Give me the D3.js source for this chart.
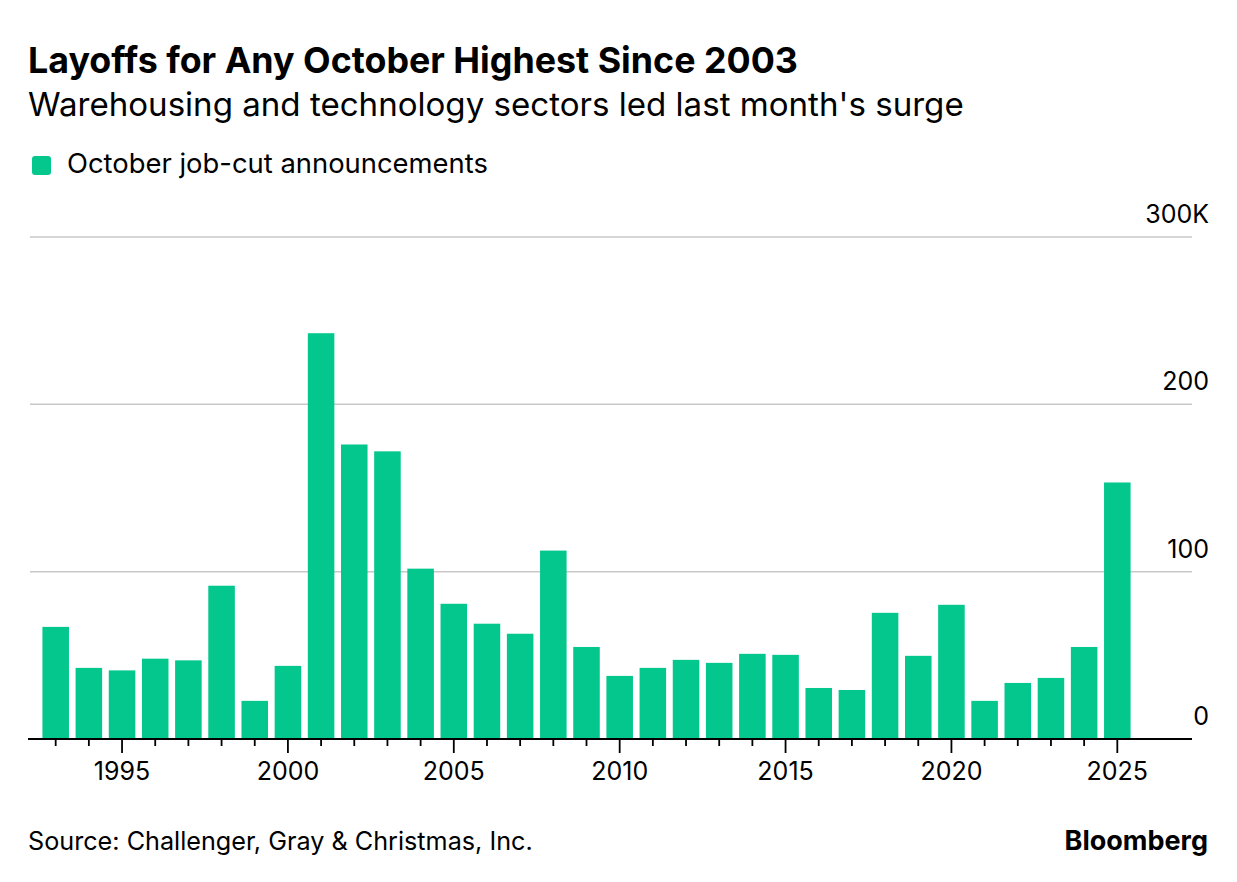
<!DOCTYPE html>
<html>
<head>
<meta charset="utf-8">
<script src="https://cdn.jsdelivr.net/npm/d3@7"></script>
<style>
  html, body { margin: 0; padding: 0; background: #fff; }
  svg { display: block; font-family: Inter, "Liberation Sans", Arial, sans-serif; }
</style>
</head>
<body>
<svg id="chart" width="1237" height="882"></svg>
<script>
const years = d3.range(1993, 2026);
const jobCuts = [67, 42.5, 41, 48, 47, 91.6, 22.8, 43.7, 242.5, 176, 171.9, 101.8, 80.8, 68.9, 62.9, 112.6,
                 55, 37.7, 42.5, 47.3, 45.5, 50.9, 50.3, 30.5, 29.3, 75.4, 49.7, 80.2, 22.8, 33.5, 36.5, 55, 153.3];
const yTicks = [0, 100, 200, 300];
const yTickLabels = ["0", "100", "200", "300K"];
const seriesName = "October job-cut announcements";
const title = "Layoffs for Any October Highest Since 2003";
const subtitle = "Warehousing and technology sectors led last month's surge";
const source = "Source: Challenger, Gray & Christmas, Inc.";

const data = years.map((y, i) => ({ year: y, value: jobCuts[i] }));
const svg = d3.select("#chart");
const color = "#03C78C";

const x = d3.scaleBand().domain(years).range([39.1, 1133.9]).paddingInner(0.2).paddingOuter(0.1);
const y = d3.scaleLinear().domain([0, 300]).range([739, 237]);

// titles
svg.append("text").attr("x", 28).attr("y", 73).attr("font-size", 35.8).attr("font-weight", 700)
  .attr("fill", "#000").text(title);
svg.append("text").attr("x", 28).attr("y", 116).attr("font-size", 33.1).attr("font-weight", 400)
  .attr("fill", "#000").text(subtitle);

// legend
svg.append("rect").attr("x", 32).attr("y", 156).attr("width", 19).attr("height", 19).attr("rx", 3).attr("fill", color);
svg.append("text").attr("x", 67).attr("y", 173).attr("font-size", 27.4).attr("fill", "#000").text(seriesName);

// gridlines
svg.append("g").selectAll("line").data(yTicks.filter(d => d > 0)).join("line")
  .attr("x1", 30).attr("x2", 1192)
  .attr("y1", d => y(d)).attr("y2", d => y(d))
  .attr("stroke", "#c8c8c8").attr("stroke-width", 1.5);

// y labels
svg.append("g").selectAll("text").data(yTicks).join("text")
  .attr("x", 1209).attr("y", d => y(d) - 14)
  .attr("text-anchor", "end").attr("font-size", 25).attr("fill", "#000")
  .text((d, i) => yTickLabels[i]);

// bars
svg.append("g").selectAll("rect").data(data).join("rect")
  .attr("x", d => x(d.year)).attr("width", x.bandwidth())
  .attr("y", d => y(d.value)).attr("height", d => y(0) - y(d.value))
  .attr("fill", color);

// x axis
const xAxis = d3.axisBottom(x).tickSize(7).tickSizeOuter(0)
  .tickFormat(d => d % 5 === 0 ? d : "");
const gx = svg.append("g").attr("transform", `translate(0,${y(0)})`).call(xAxis);
gx.select(".domain").remove();
gx.append("line").attr("x1", 28).attr("x2", 1192).attr("y1", 0).attr("y2", 0)
  .attr("stroke", "#000").attr("stroke-width", 2);
gx.selectAll(".tick line").attr("stroke", "#000").attr("stroke-width", 1.8)
  .attr("y2", d => d % 5 === 0 ? 14 : 7);
gx.selectAll(".tick text").attr("font-size", 25).attr("fill", "#000")
  .attr("font-family", "Inter, 'Liberation Sans', Arial, sans-serif")
  .attr("y", 41).attr("dy", 0);

// footer
svg.append("text").attr("x", 28).attr("y", 850).attr("font-size", 25.2).attr("fill", "#000").text(source);
svg.append("text").attr("x", 1208).attr("y", 850).attr("text-anchor", "end").attr("font-size", 27)
  .attr("font-weight", 700).attr("fill", "#000").text("Bloomberg");
</script>
</body>
</html>
